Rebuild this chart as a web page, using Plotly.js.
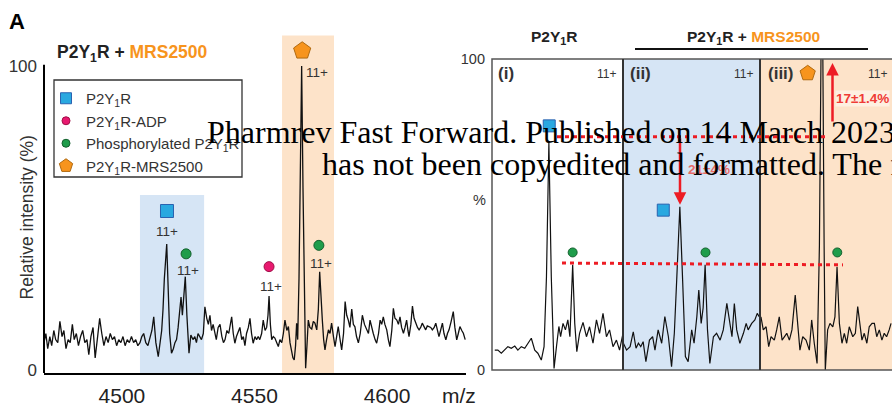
<!DOCTYPE html>
<html><head><meta charset="utf-8">
<script src="https://cdn.plot.ly/plotly-3.0.1.min.js"></script>
<style>html,body{margin:0;padding:0;background:#fff}#c{width:892px;height:410px}</style>
</head><body><div id="c"></div>
<script>
// ---------- DATA ----------
// Left spectrum (m/z, relative intensity %)
const leftMz = [4470.6,4471.3,4472,4472.8,4473.5,4474.3,4475,4475.8,4476.6,4477.4,4478.1,4478.9,4479.7,4480.5,4481.3,4482,4482.8,4483.6,4484.4,4485.2,4486,4486.8,4487.5,4488.3,4489.1,4489.9,4490.7,4491.6,4492.4,4493.2,4494,4494.8,4495.6,4496.4,4497.2,4498,4498.8,4499.6,4500.4,4501.2,4502,4502.8,4503.6,4504.4,4505.2,4506,4506.8,4507.5,4508.2,4509,4509.8,4510.6,4511.3,4512,4512.8,4513.7,4514.4,4515,4515.5,4516,4516.9,4517.5,4518,4518.7,4519.4,4520,4520.6,4521.2,4521.6,4522.3,4522.8,4523.4,4523.9,4524.5,4525.3,4526,4526.8,4527.5,4528.1,4528.7,4529.4,4530,4530.7,4531.3,4532,4532.6,4533.2,4533.8,4534.4,4535,4535.6,4536.3,4537,4537.7,4538.3,4538.9,4539.6,4540.3,4541,4541.4,4542,4542.6,4543.2,4543.9,4544.5,4545.2,4545.8,4546.4,4547,4547.7,4548.3,4548.9,4549.5,4550.2,4550.8,4551.4,4552,4552.7,4553.3,4554,4554.6,4555.1,4555.5,4556,4556.5,4557.1,4557.7,4558.4,4559,4559.6,4560.3,4560.9,4561.5,4562.2,4562.8,4563.4,4564,4564.5,4565,4565.5,4565.9,4566.3,4566.8,4567.3,4567.8,4568.3,4568.8,4569.3,4569.8,4570.3,4570.9,4571.6,4572.2,4572.8,4573.5,4574.1,4574.6,4575.1,4575.6,4576.1,4576.6,4577.2,4577.9,4578.5,4579.1,4579.8,4580.4,4581,4581.6,4582.3,4582.9,4583.6,4584.2,4584.8,4585.4,4586,4586.7,4587.3,4587.9,4588.5,4589.2,4589.9,4590.7,4591.5,4592.3,4593,4593.6,4594.2,4594.8,4595.5,4596.1,4596.8,4597.4,4598,4598.6,4599.2,4599.9,4600.5,4601.1,4601.8,4602.4,4603,4603.7,4604.3,4604.9,4605.5,4606.2,4606.8,4607.4,4607.9,4608.3,4609,4609.6,4610.2,4610.8,4611.5,4612.1,4612.7,4613.3,4614,4614.6,4615.2,4615.8,4616.5,4617.1,4617.8,4618.4,4619,4619.6,4620.2,4620.9,4621.5,4622.2,4622.8,4623.4,4624.2,4625,4625.6,4626.3,4626.9,4627.5,4628.2,4628.8,4629.5];
const leftInt = [9,12,7,11,8,13,10,9,16,11,13,7,10,9,15,10,12,8,11,13,9,10,5,11,14,4,10,17,12,8,11,9,12,10,11,8,10,9,11,8,10,9,11,9,10,8,9,11,12,9,8,11,13,17.5,9,4.4,10,13,20,30,41.4,25,12,5.5,7,9,10,14,17.5,24,18,26,30.7,18,5.5,11.5,10,11,9,12,11,10,12,20.8,17,15,18,13,15,12,10,14,15,11,9,10,13,12,15,17.5,12,8.8,11,13,14,10,11,8,12,14,17,12,8.8,11,10,11,10,12,16.4,13,14,18,24.3,15,10,11,10.5,9,7.7,10,9,12,16.4,13,14.3,9,5.5,4,3.3,8,15.4,10,30,70,100,60,20,0.6,8,16.4,14,13.5,16,15.4,13.2,20,32.3,22,16.4,10,6.6,10,13.2,12,15.4,11,7.7,11,14.3,10,6.6,12,22.5,18,16.4,14,20,15,14.2,11,8.9,12,18,15,13.2,12,16.4,14,12.1,10,8.8,12,16.4,15,17.5,15,13.2,10,7.7,13,20.3,17,16.4,15,17.5,14,12.1,14,16.4,13,11,15,21,17,15.4,14,13.2,14,15.4,14,13.2,14.5,14.3,14,13.2,14,15.4,13,11,13,15.4,12,9.9,12,13.2,16,19.2,14,9.9,12,14.3,13,12.1,10];

// Right panel (i): P2Y1R alone
const p1Mz = [4500.8,4501.7,4502.7,4503.7,4504.6,4505.6,4506.6,4507.5,4508.5,4509.5,4510.4,4511.4,4512.4,4513.3,4514.3,4515.1,4515.8,4516.5,4517.2,4518.0,4518.7,4519.4,4519.9,4520.6,4521.3,4522.0,4522.6,4523.4,4524.0,4524.6,4525.4,4526.4,4527.4,4528.3,4529.3,4530.3,4531.2,4532.2,4533.2,4534.1,4535.1,4536.1,4537.0,4538.0];
const p1Int = [6.4,6.4,5.4,6.4,7.5,7.0,7.7,6.4,7.5,7.0,8.6,10.2,6.4,5.4,3.2,7.5,30,73,30,0.5,7.5,14,10.7,15,12.9,16.1,10.7,33.8,15,5.9,11.8,15.3,10.7,13.9,8.6,16.1,11.8,18.2,10.7,12.9,7.5,9.6,6.4,11.8];

// Right panel (ii): P2Y1R + MRS2500, apo region
const p2Mz = [4502.7,4503.5,4504.4,4505.2,4505.9,4506.5,4507.1,4507.7,4508.4,4509.3,4510.1,4510.7,4511.5,4512.4,4513.2,4514.1,4514.9,4515.6,4516.2,4517.0,4517.7,4518.4,4519.1,4520.0,4520.6,4521.3,4521.8,4522.4,4522.9,4523.4,4524.0,4524.6,4525.5,4526.3,4527.2,4528.0,4528.9,4529.6,4530.2,4530.8,4531.4,4532.2,4533.1,4533.8,4534.3,4535.2,4536.0,4536.6,4537.1];
const p2Int = [8.6,6.4,7.5,12.3,7.0,8.6,7.5,9.1,2.7,9.6,10.7,6.4,12.9,8.6,17.2,10.7,1.1,11.8,28.9,52.5,28.9,4.3,2.7,12.9,8.6,17.1,25.7,15,20,33.8,12.9,2.1,10.7,11.8,9.6,12.9,21.4,15,10.7,21.4,12.9,8.6,11.8,15,12.9,15,16.1,18.2,17.1];

// Right panel (iii): P2Y1R + MRS2500, bound region
const p3Mz = [4542.0,4543.0,4544.2,4545.3,4546.3,4547.7,4548.7,4549.8,4551.0,4552.0,4553.0,4554.1,4555.2,4556.6,4557.7,4558.6,4559.8,4561.2,4562.6,4563.6,4564.7,4565.9,4566.9,4568.0,4568.9,4569.4,4570.4,4571.4,4572.6,4573.5,4574.4,4575.4,4576.5,4577.5,4578.5,4579.6,4581.1,4582.2,4583.2,4584.2,4585.0,4586.0,4587.1,4588.1,4589.3,4590.3,4591.3,4592.4,4593.5,4594.5,4595.5,4596.6,4597.4];
const p3Int = [17.1,12.9,13.9,7.5,10.7,9.6,12.9,17.1,9.6,10.7,11.8,9.6,12.9,24.1,12.9,6.4,10.7,9.6,6.4,16.1,8.6,2.1,40,140,40,0,12.9,15.0,13.9,17.1,33.2,15,8.6,11.8,8.6,13.9,10.7,11.8,20.4,15.0,9.6,11.8,8.6,13.9,15.0,15.0,10.7,12.9,9.6,11.8,10.7,12.9,15.0];

// Species markers
const speciesNames = ['P2Y<sub>1</sub>R','P2Y<sub>1</sub>R-ADP','Phosphorylated P2Y<sub>1</sub>R','P2Y<sub>1</sub>R-MRS2500'];
const apoLeftX = [4517], apoLeftY = [52.3];
const adpLeftX = [4555.5], adpLeftY = [34];
const phosLeftX = [4524.2, 4574.3], phosLeftY = [38.2, 41];
const mrsLeftX = [4568], mrsLeftY = [105];
const apoP1X = [4516.6], apoP1Y = [78.5];
const phosP1X = [4523.4], phosP1Y = [37.8];
const apoP2X = [4512.8], apoP2Y = [51.4];
const phosP2X = [4523.5], phosP2Y = [37.8];
const mrsP3X = [4561.9], mrsP3Y = [95.4];
const phosP3X = [4574.5], phosP3Y = [37.8];

// Charge-state labels (left)
const chargeX = [4517, 4524.9, 4556.2, 4573.6, 4575.1];
const chargeY = [45.4, 32.6, 27.6, 97.7, 34.9];
const chargeText = '11+';

// Highlight windows (left)
const apoWindow = [4506.8, 4531.0], apoWindowTop = 57.6;
const mrsWindow = [4560.4, 4580.0], mrsWindowTop = 110;

// Quantification
const refLevelApo = 75, apoDropLevel = 53.1;
const phosLevel = [34.4, 33.8];
const boundRiseTo = 98.7;
const dropText = '21±4%', riseText = '17±1.4%';

const xTicks = [4500, 4550, 4600];

// ---------- STYLE HELPERS ----------
const W = 892, H = 410;
const px = v => v / W, py = v => 1 - v / H;
const FONT = 'Liberation Sans, Arial, Helvetica, sans-serif';
const BLUE = '#29a8e0', PINK = '#e8196f', GREEN = '#1f9d4b', ORANGE = '#f7941d', RED = '#ed1c24';

const mk = (sym, col, size, lc) => ({symbol: sym, color: col, size: size, line: {color: lc, width: 1}});
const spec = (x, y, xa, ya, lw) => ({x: x, y: y, xaxis: xa, yaxis: ya, mode: 'lines', line: {color: '#111', width: lw || 1.2}, showlegend: false, hoverinfo: 'skip', cliponaxis: true});
const pts = (x, y, xa, ya, m) => ({x: x, y: y, xaxis: xa, yaxis: ya, mode: 'markers', marker: m, showlegend: false, cliponaxis: false, hoverinfo: 'skip'});

const traces = [
  spec(leftMz, leftInt, 'x', 'y', 1.3),
  spec(p1Mz, p1Int, 'x2', 'y2', 1.2),
  spec(p2Mz, p2Int, 'x3', 'y2', 1.2),
  spec(p3Mz, p3Int, 'x4', 'y2', 1.2),
  pts(apoLeftX, apoLeftY, 'x', 'y', mk('square', BLUE, 13, '#2a62b0')),
  pts(adpLeftX, adpLeftY, 'x', 'y', mk('circle', PINK, 10, '#a01048')),
  pts(phosLeftX, phosLeftY, 'x', 'y', mk('circle', GREEN, 10, '#14602e')),
  pts(mrsLeftX, mrsLeftY, 'x', 'y', mk('pentagon', ORANGE, 18, '#b06a10')),
  pts(apoP1X, apoP1Y, 'x2', 'y2', mk('square', BLUE, 12, '#2a62b0')),
  pts(phosP1X, phosP1Y, 'x2', 'y2', mk('circle', GREEN, 9, '#14602e')),
  pts(apoP2X, apoP2Y, 'x3', 'y2', mk('square', BLUE, 12, '#2a62b0')),
  pts(phosP2X, phosP2Y, 'x3', 'y2', mk('circle', GREEN, 9, '#14602e')),
  pts(mrsP3X, mrsP3Y, 'x4', 'y2', mk('pentagon', ORANGE, 16, '#b06a10')),
  pts(phosP3X, phosP3Y, 'x4', 'y2', mk('circle', GREEN, 9, '#14602e'))
];
// legend entries
const legendMarkers = [mk('square', BLUE, 11, '#2a62b0'), mk('circle', PINK, 8, '#a01048'), mk('circle', GREEN, 8, '#14602e'), mk('pentagon', ORANGE, 14, '#b06a10')];
speciesNames.forEach((n, i) => traces.push({x: [null], y: [null], xaxis: 'x', yaxis: 'y', mode: 'markers', name: n, marker: legendMarkers[i], showlegend: true, hoverinfo: 'skip'}));

const shapes = [
  {type: 'rect', xref: 'x', yref: 'y', x0: apoWindow[0], x1: apoWindow[1], y0: -1, y1: apoWindowTop, fillcolor: '#d6e5f5', line: {width: 0}, layer: 'below'},
  {type: 'rect', xref: 'x', yref: 'y', x0: mrsWindow[0], x1: mrsWindow[1], y0: -1, y1: mrsWindowTop, fillcolor: '#fde3c9', line: {width: 0}, layer: 'below'},
  {type: 'line', xref: 'paper', yref: 'y', x0: px(44), x1: px(44), y0: -1, y1: 100.4, line: {color: '#000', width: 2}},
  // legend frame
  {type: 'rect', xref: 'paper', yref: 'paper', x0: px(54), x1: px(242), y0: py(177), y1: py(80), fillcolor: '#fff', line: {color: '#333', width: 1.3}, layer: 'above'},
  {type: 'rect', xref: 'paper', yref: 'paper', x0: px(623), x1: px(760), y0: py(370), y1: py(59), fillcolor: '#d6e5f5', line: {width: 0}, layer: 'below'},
  {type: 'rect', xref: 'paper', yref: 'paper', x0: px(760), x1: px(892), y0: py(370), y1: py(59), fillcolor: '#fde3c9', line: {width: 0}, layer: 'below'},
  {type: 'rect', xref: 'paper', yref: 'paper', x0: px(492), x1: px(893), y0: py(370), y1: py(59), line: {color: '#555', width: 1.5}},
  {type: 'line', xref: 'paper', yref: 'paper', x0: px(623), x1: px(623), y0: py(370), y1: py(59), line: {color: '#333', width: 2}},
  {type: 'line', xref: 'paper', yref: 'paper', x0: px(760), x1: px(760), y0: py(370), y1: py(59), line: {color: '#333', width: 2}},
  {type: 'line', xref: 'paper', yref: 'paper', x0: px(635), x1: px(868), y0: py(49), y1: py(49), line: {color: '#111', width: 2}},
  {type: 'line', xref: 'paper', yref: 'y2', x0: px(557), x1: px(827), y0: refLevelApo, y1: refLevelApo, line: {color: RED, width: 3, dash: '4px,4px'}},
  {type: 'line', xref: 'paper', yref: 'y2', x0: px(562), x1: px(843), y0: phosLevel[0], y1: phosLevel[1], line: {color: RED, width: 3, dash: '4px,4px'}}
];

const A = (o) => Object.assign({showarrow: false, xanchor: 'center', yanchor: 'middle', font: {family: FONT, size: 13.5, color: '#333'}}, o);
const annotations = [
  A({xref: 'paper', yref: 'paper', x: px(17), y: py(21), text: '<b>A</b>', font: {family: FONT, size: 22, color: '#000'}}),
  A({xref: 'paper', yref: 'paper', x: px(55), y: py(53), xanchor: 'left', text: '<b>P2Y<sub>1</sub>R + <span style="color:' + ORANGE + '">MRS2500</span></b>', font: {family: FONT, size: 17.5, color: '#222'}}),
  A({xref: 'paper', yref: 'paper', x: px(26.5), y: py(218), textangle: -90, text: 'Relative intensity (%)', font: {family: FONT, size: 17.5, color: '#333'}}),
  A({xref: 'paper', yref: 'paper', x: px(459), y: py(395), text: 'm/z', font: {family: FONT, size: 21, color: '#222'}}),
  A({xref: 'paper', yref: 'paper', x: px(554), y: py(38), text: '<b>P2Y<sub>1</sub>R</b>', font: {family: FONT, size: 15.5, color: '#222'}}),
  A({xref: 'paper', yref: 'paper', x: px(753), y: py(38), text: '<b>P2Y<sub>1</sub>R + <span style="color:' + ORANGE + '">MRS2500</span></b>', font: {family: FONT, size: 15.5, color: '#222'}}),
  A({xref: 'paper', yref: 'paper', x: px(479), y: py(200), text: '%', font: {family: FONT, size: 14.5, color: '#333'}}),
  A({xref: 'paper', yref: 'paper', x: px(506), y: py(74), text: '<b>(i)</b>', font: {family: FONT, size: 17, color: '#333'}}),
  A({xref: 'paper', yref: 'paper', x: px(640), y: py(74), text: '<b>(ii)</b>', font: {family: FONT, size: 17, color: '#333'}}),
  A({xref: 'paper', yref: 'paper', x: px(781), y: py(74), text: '<b>(iii)</b>', font: {family: FONT, size: 17, color: '#333'}}),
  A({xref: 'paper', yref: 'paper', x: px(606), y: py(74), text: chargeText, font: {family: FONT, size: 12, color: '#333'}}),
  A({xref: 'paper', yref: 'paper', x: px(743), y: py(74), text: chargeText, font: {family: FONT, size: 12, color: '#333'}}),
  A({xref: 'paper', yref: 'paper', x: px(877), y: py(74), text: chargeText, font: {family: FONT, size: 12, color: '#333'}}),
  {xref: 'paper', yref: 'y2', x: px(680), y: apoDropLevel, ax: 0, ay: -68, text: '', showarrow: true, arrowhead: 2, arrowsize: 1, arrowwidth: 2.5, arrowcolor: RED},
  {xref: 'paper', yref: 'y2', x: px(832.5), y: boundRiseTo, ax: 0, ay: 60, text: '', showarrow: true, arrowhead: 2, arrowsize: 1, arrowwidth: 2.5, arrowcolor: RED},
  A({xref: 'paper', yref: 'paper', x: px(709), y: py(170), text: '<b>' + dropText + '</b>', font: {family: FONT, size: 13.5, color: '#e86a66'}}),
  A({xref: 'paper', yref: 'paper', x: px(862), y: py(98), text: '<b>' + riseText + '</b>', bgcolor: 'rgba(255,255,255,0.45)', borderpad: 0, font: {family: FONT, size: 13.5, color: '#ef3b36'}}),
];
chargeX.forEach((x, i) => annotations.push(A({xref: 'x', yref: 'y', x: x, y: chargeY[i], text: chargeText})));
annotations.push(A({xref: 'paper', yref: 'paper', x: px(205), y: py(132), xanchor: 'left', text: 'Pharmrev Fast Forward. Published on 14 March 2023', font: {family: 'Liberation Serif, Times New Roman, serif', size: 32, color: '#000'}}));
annotations.push(A({xref: 'paper', yref: 'paper', x: px(320), y: py(164), xanchor: 'left', text: 'has not been copyedited and formatted. The f', font: {family: 'Liberation Serif, Times New Roman, serif', size: 32, color: '#000'}}));

const layout = {
  width: W, height: H, margin: {l: 0, r: 0, t: 0, b: 0},
  paper_bgcolor: '#fff', plot_bgcolor: 'rgba(0,0,0,0)',
  font: {family: FONT, color: '#333'},
  showlegend: true,
  legend: {x: px(46), y: py(82), xanchor: 'left', yanchor: 'top', bgcolor: 'rgba(0,0,0,0)', borderwidth: 0, font: {family: FONT, size: 15, color: '#333'}, tracegroupgap: 0, itemwidth: 30},
  xaxis: {domain: [px(44), px(466)], range: [4470.6, 4629.8], tickvals: xTicks, showgrid: false, zeroline: false, showline: true, linecolor: '#000', linewidth: 2, ticks: '', tickfont: {family: FONT, size: 21, color: '#222'}, ticklabelstandoff: 3, anchor: 'y'},
  yaxis: {domain: [py(373), py(30)], range: [-0.99, 111.84], tickvals: [0, 100], showgrid: false, zeroline: false, showline: false, ticks: '', tickfont: {family: FONT, size: 17, color: '#333'}, ticklabelstandoff: 6, anchor: 'x'},
  xaxis2: {domain: [px(492), px(623)], range: [4500, 4538], visible: false, anchor: 'y2'},
  xaxis3: {domain: [px(623), px(760)], range: [4502.6, 4537.3], visible: false, anchor: 'y2'},
  xaxis4: {domain: [px(760), px(892)], range: [4541.6, 4597.8], visible: false, anchor: 'y2'},
  yaxis2: {domain: [py(370), py(59)], range: [0, 100], tickvals: [0, 100], showgrid: false, zeroline: false, showline: false, ticks: '', tickfont: {family: FONT, size: 14.5, color: '#333'}, ticklabelstandoff: 6, anchor: 'x2'},
  shapes: shapes, annotations: annotations
};
Plotly.newPlot('c', traces, layout, {staticPlot: true, displayModeBar: false});
</script></body></html>
